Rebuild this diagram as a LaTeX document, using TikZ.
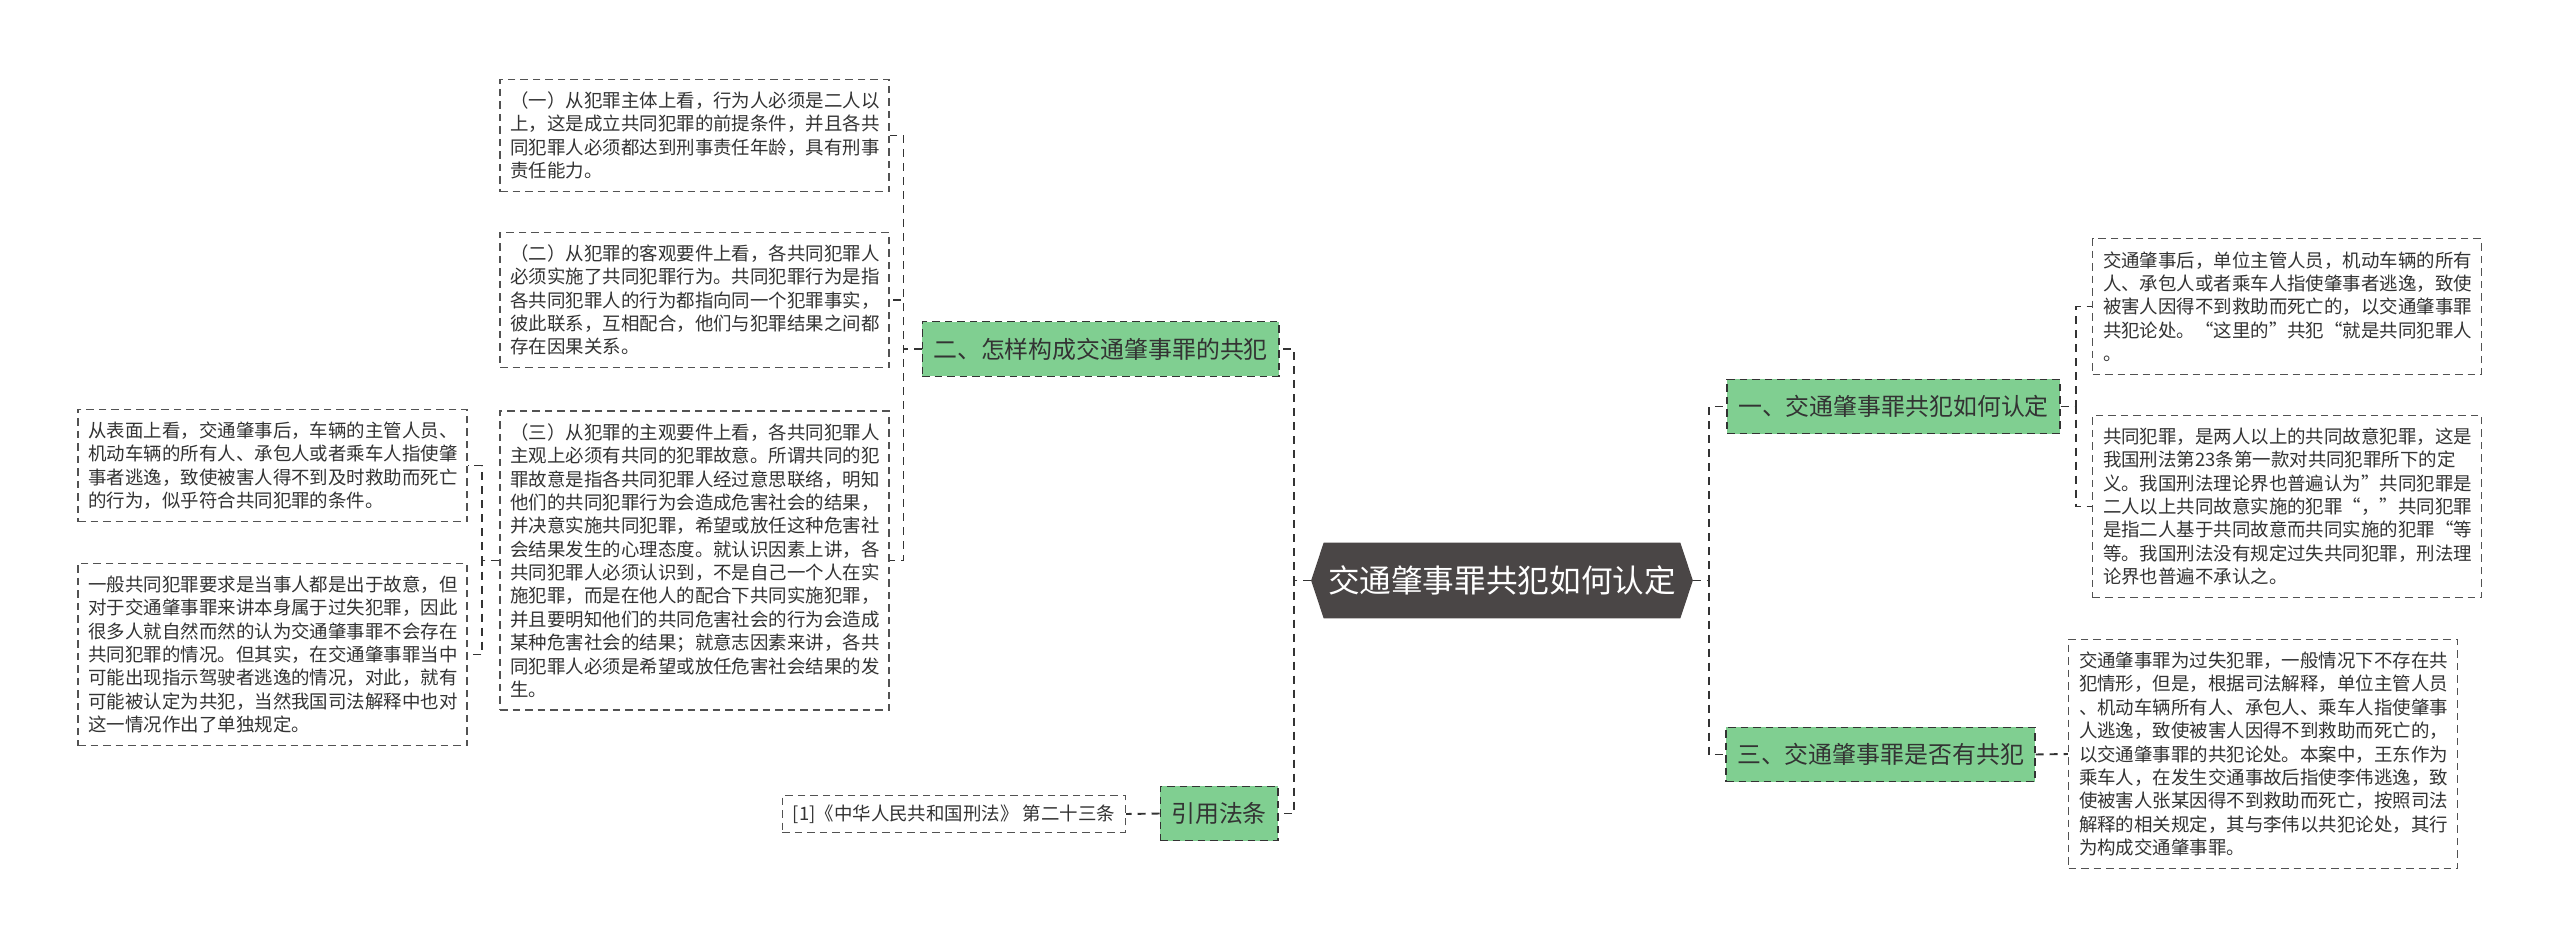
\documentclass[tikz,border=0pt]{standalone}
\usepackage{fontspec}
\setmainfont{Noto Sans CJK SC}
\usetikzlibrary{backgrounds}
\definecolor{rootgray}{HTML}{4A4646}
\definecolor{leafgreen}{HTML}{80CF91}
\definecolor{linegray}{HTML}{333333}
\tikzset{
  topic/.style={draw=linegray,line width=0.8pt,dash pattern=on 0.15cm off 0.1cm,fill=leafgreen,text=linegray,
    font=\fontsize{13.6pt}{16pt}\selectfont,inner xsep=0.22cm,inner ysep=0pt,minimum height=1.09cm},
  note/.style={draw=linegray!85,line width=0.7pt,dash pattern=on 0.15cm off 0.1cm,fill=white,text=linegray,
    font=\fontsize{10.5pt}{13.3pt}\selectfont,align=left,inner xsep=0.21cm,inner ysep=0.25cm},
  para/.style={note,text width=7.36cm},
  link/.style={draw=linegray,line width=1.1pt,dash pattern=on 0.16cm off 0.12cm}
}
\begin{document}
\begin{tikzpicture}[scale=1.0]
    \useasboundingbox (0,0) rectangle (51.2,-19);
    \node[text=white,font=\fontsize{18pt}{21pt}\selectfont,minimum width=7.62cm,minimum height=1.5cm,inner sep=0] (root) at (30.04,-11.61) {交通肇事罪共犯如何认定};
    \begin{scope}[on background layer]
      \fill[white] (0,0) rectangle (51.2,-19);
      \fill[rootgray] (root.west) -- ([xshift=0.25cm]root.north west) -- ([xshift=-0.25cm]root.north east)
        -- (root.east) -- ([xshift=-0.25cm]root.south east) -- ([xshift=0.25cm]root.south west) -- cycle;
    \end{scope}
    \node[topic] (g2) at (22.01,-6.98) {二、怎样构成交通肇事罪的共犯};
    \node[topic] (g4) at (24.38,-16.27) {引用法条};
    \node[topic] (g1) at (37.87,-8.13) {一、交通肇事罪共犯如何认定};
    \node[topic] (g3) at (37.61,-15.09) {三、交通肇事罪是否有共犯};
    \node[note,inner ysep=0.18cm] (ref) at (19.08,-16.28) {[1]《中华人民共和国刑法》 第二十三条};
    \node[para] (b1) at (13.89,-2.71) {（一）从犯罪主体上看，行为人必须是二人以\\上，这是成立共同犯罪的前提条件，并且各共\\同犯罪人必须都达到刑事责任年龄，具有刑事\\责任能力。};
    \node[para] (b2) at (13.89,-6.00) {（二）从犯罪的客观要件上看，各共同犯罪人\\必须实施了共同犯罪行为。共同犯罪行为是指\\各共同犯罪人的行为都指向同一个犯罪事实，\\彼此联系，互相配合，他们与犯罪结果之间都\\存在因果关系。};
    \node[para] (b3) at (13.89,-11.21) {（三）从犯罪的主观要件上看，各共同犯罪人\\主观上必须有共同的犯罪故意。所谓共同的犯\\罪故意是指各共同犯罪人经过意思联络，明知\\他们的共同犯罪行为会造成危害社会的结果，\\并决意实施共同犯罪，希望或放任这种危害社\\会结果发生的心理态度。就认识因素上讲，各\\共同犯罪人必须认识到，不是自己一个人在实\\施犯罪，而是在他人的配合下共同实施犯罪，\\并且要明知他们的共同危害社会的行为会造成\\某种危害社会的结果；就意志因素来讲，各共\\同犯罪人必须是希望或放任危害社会结果的发\\生。};
    \node[para] (l1) at (5.45,-9.31) {从表面上看，交通肇事后，车辆的主管人员、\\机动车辆的所有人、承包人或者乘车人指使肇\\事者逃逸，致使被害人得不到及时救助而死亡\\的行为，似乎符合共同犯罪的条件。};
    \node[para] (l2) at (5.45,-13.09) {一般共同犯罪要求是当事人都是出于故意，但\\对于交通肇事罪来讲本身属于过失犯罪，因此\\很多人就自然而然的认为交通肇事罪不会存在\\共同犯罪的情况。但其实，在交通肇事罪当中\\可能出现指示驾驶者逃逸的情况，对此，就有\\可能被认定为共犯，当然我国司法解释中也对\\这一情况作出了单独规定。};
    \node[para] (rA) at (45.74,-6.13) {交通肇事后，单位主管人员，机动车辆的所有\\人、承包人或者乘车人指使肇事者逃逸，致使\\被害人因得不到救助而死亡的，以交通肇事罪\\共犯论处。“这里的”共犯“就是共同犯罪人\\。};
    \node[para] (rB) at (45.74,-10.13) {共同犯罪，是两人以上的共同故意犯罪，这是\\我国刑法第23条第一款对共同犯罪所下的定\\义。我国刑法理论界也普遍认为”共同犯罪是\\二人以上共同故意实施的犯罪“，”共同犯罪\\是指二人基于共同故意而共同实施的犯罪“等\\等。我国刑法没有规定过失共同犯罪，刑法理\\论界也普遍不承认之。};
    \node[para] (rC) at (45.26,-15.08) {交通肇事罪为过失犯罪，一般情况下不存在共\\犯情形，但是，根据司法解释，单位主管人员\\、机动车辆所有人、承包人、乘车人指使肇事\\人逃逸，致使被害人因得不到救助而死亡的，\\以交通肇事罪的共犯论处。本案中，王东作为\\乘车人，在发生交通事故后指使李伟逃逸，致\\使被害人张某因得不到救助而死亡，按照司法\\解释的相关规定，其与李伟以共犯论处，其行\\为构成交通肇事罪。};
    \draw[link] (root.west) -- ++(-0.34,0) |- (g2.east);
    \draw[link] (root.west) -- ++(-0.34,0) |- (g4.east);
    \draw[link] (root.east) -- ++(0.32,0) |- (g1.west);
    \draw[link] (root.east) -- ++(0.32,0) |- (g3.west);
    \draw[link] (g2.west) -- ++(-0.36,0) |- (b1.east);
    \draw[link] (g2.west) -- ++(-0.36,0) |- (b2.east);
    \draw[link] (g2.west) -- ++(-0.36,0) |- (b3.east);
    \draw[link] (b3.west) -- ++(-0.34,0) |- (l1.east);
    \draw[link] (b3.west) -- ++(-0.34,0) |- (l2.east);
    \draw[link] (g4.west) -- (ref.east);
    \draw[link] (g1.east) -- ++(0.3,0) |- (rA.west);
    \draw[link] (g1.east) -- ++(0.3,0) |- (rB.west);
    \draw[link] (g3.east) -- (rC.west);
  \end{tikzpicture}
\end{document}
